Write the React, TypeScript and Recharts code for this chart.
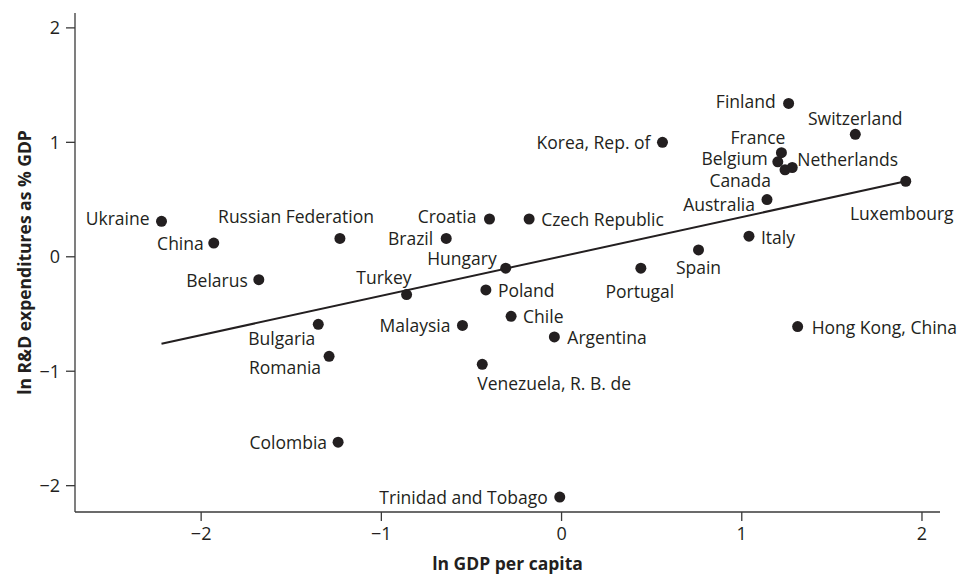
import { ScatterChart, Scatter, XAxis, YAxis, ReferenceLine, Label } from "recharts";

// ln GDP per capita (x) and ln R&D expenditures as % GDP (y)
const countries = [
  "Ukraine", "China", "Belarus", "Russian Federation", "Bulgaria", "Romania",
  "Colombia", "Turkey", "Brazil", "Malaysia", "Venezuela, R. B. de", "Poland",
  "Croatia", "Hungary", "Chile", "Czech Republic", "Argentina", "Trinidad and Tobago",
  "Portugal", "Korea, Rep. of", "Spain", "Italy", "Australia", "Belgium", "France",
  "Canada", "Finland", "Netherlands", "Hong Kong, China", "Switzerland", "Luxembourg",
];
const lnGdp = [
  -2.22, -1.93, -1.68, -1.23, -1.35, -1.29,
  -1.24, -0.86, -0.64, -0.55, -0.44, -0.42,
  -0.4, -0.31, -0.28, -0.18, -0.04, -0.01,
  0.44, 0.56, 0.76, 1.04, 1.14, 1.2, 1.22,
  1.24, 1.26, 1.28, 1.31, 1.63, 1.91,
];
const lnRnd = [
  0.31, 0.12, -0.2, 0.16, -0.59, -0.87,
  -1.62, -0.33, 0.16, -0.6, -0.94, -0.29,
  0.33, -0.1, -0.52, 0.33, -0.7, -2.1,
  -0.1, 1.0, 0.06, 0.18, 0.5, 0.83, 0.91,
  0.76, 1.34, 0.78, -0.61, 1.07, 0.66,
];
// fitted line end points
const fitX = [-2.22, 1.91];
const fitY = [-0.76, 0.66];
const ticks = [-2, -1, 0, 1, 2];

const data = countries.map((name, i) => ({ name, x: lnGdp[i], y: lnRnd[i] }));

// label placement: [anchor, dx, dy]
const labelPos: Record<string, [string, number, number]> = {
  "Ukraine": ["end", -12, -3],
  "China": ["end", -10, 0],
  "Belarus": ["end", -11, 0],
  "Russian Federation": ["end", 34, -22],
  "Bulgaria": ["end", -3, 14],
  "Romania": ["end", -8, 11],
  "Colombia": ["end", -11, 0],
  "Turkey": ["end", 5, -18],
  "Brazil": ["end", -13, 0],
  "Malaysia": ["end", -12, 0],
  "Venezuela, R. B. de": ["start", -5, 19],
  "Poland": ["start", 12, 0],
  "Croatia": ["end", -13, -3],
  "Hungary": ["end", -9, -10],
  "Chile": ["start", 12, 0],
  "Czech Republic": ["start", 12, 0],
  "Argentina": ["start", 13, 0],
  "Trinidad and Tobago": ["end", -12, 0],
  "Portugal": ["middle", -1, 23],
  "Korea, Rep. of": ["end", -12, 0],
  "Spain": ["middle", 0, 17],
  "Italy": ["start", 12, 1],
  "Australia": ["end", -12, 4],
  "Belgium": ["end", -10, -4],
  "France": ["end", 4, -16],
  "Canada": ["end", -14, 10],
  "Finland": ["end", -13, -2],
  "Netherlands": ["start", 5, -9],
  "Hong Kong, China": ["start", 14, 0],
  "Switzerland": ["middle", 0, -16],
  "Luxembourg": ["middle", -4, 32],
};

const FONT = "'Open Sans', sans-serif";
const INK = "#231f20";

function Dot(props: any) {
  const { cx, cy, payload } = props;
  const [anchor, dx, dy] = labelPos[payload.name] ?? ["start", 10, 0];
  return (
    <g>
      <circle cx={cx} cy={cy} r={5.5} fill={INK} />
      <text
        x={cx + dx}
        y={cy + dy}
        textAnchor={anchor}
        dominantBaseline="central"
        fontFamily={FONT}
        fontSize={17.5}
        fill={INK}
      >
        {payload.name}
      </text>
    </g>
  );
}

const fmt = (v: number) => (v < 0 ? `\u2212${Math.abs(v)}` : `${v}`);

export default function App() {
  return (
    <div style={{ position: "absolute", left: 0, top: 0, background: "#fff" }}>
      <ScatterChart width={965} height={577} margin={{ top: 13, right: 25, bottom: 0, left: 0 }}>
        <XAxis
          type="number"
          dataKey="x"
          domain={[-2.7, 2.1]}
          ticks={ticks}
          height={65}
          tickSize={9}
          tickMargin={6}
          tickFormatter={fmt}
          stroke="#3a3a3a"
          strokeWidth={1.3}
          tick={{ fill: INK, fontFamily: FONT, fontSize: 18 }}
        >
          <Label
            content={() => (
              <text x={507.5} y={563} textAnchor="middle" dominantBaseline="central"
                fontFamily={FONT} fontWeight="bold" fontSize={17.5} fill={INK}>
                ln GDP per capita
              </text>
            )}
          />
        </XAxis>
        <YAxis
          type="number"
          dataKey="y"
          domain={[-2.23, 2.13]}
          ticks={ticks}
          width={75}
          tickSize={9}
          tickMargin={6}
          tickFormatter={fmt}
          stroke="#3a3a3a"
          strokeWidth={1.3}
          tick={{ fill: INK, fontFamily: FONT, fontSize: 18 }}
        >
          <Label
            content={() => (
              <text x={24} y={262.5} transform="rotate(-90 24 262.5)" textAnchor="middle"
                dominantBaseline="central" fontFamily={FONT} fontWeight="bold" fontSize={17.5} fill={INK}>
                ln R&amp;D expenditures as % GDP
              </text>
            )}
          />
        </YAxis>
        <ReferenceLine
          segment={[{ x: fitX[0], y: fitY[0] }, { x: fitX[1], y: fitY[1] }]}
          stroke={INK}
          strokeWidth={2}
        />
        <Scatter data={data} shape={Dot} isAnimationActive={false} />
      </ScatterChart>
    </div>
  );
}
